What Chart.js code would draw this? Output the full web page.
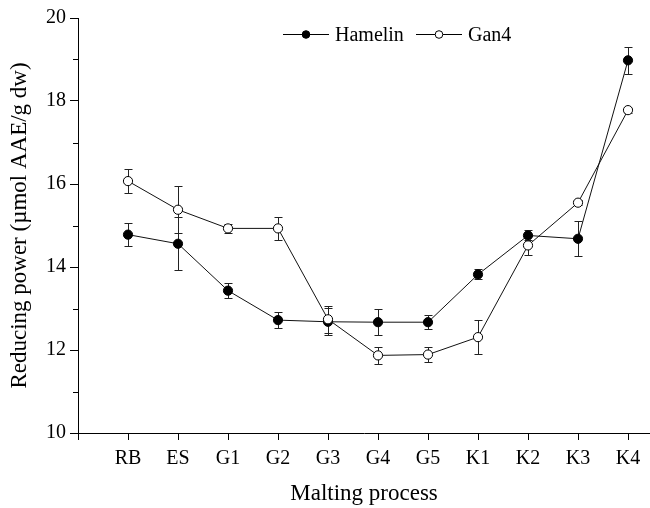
<!DOCTYPE html>
<html><head><meta charset="utf-8">
<script src="https://cdn.jsdelivr.net/npm/chart.js@4/dist/chart.umd.min.js"></script>
<style>html,body{margin:0;padding:0;background:#fff}#wrap{width:650px;height:508px}</style>
</head><body><div id="wrap"><canvas id="c" width="650" height="508"></canvas></div>
<script>
const categories = ['RB','ES','G1','G2','G3','G4','G5','K1','K2','K3','K4'];
const hamelin    = [14.78,14.56,13.43,12.72,12.68,12.67,12.67,13.82,14.76,14.68,18.98];
const hamelinErr = [0.27,0.64,0.18,0.20,0.33,0.32,0.17,0.12,0.12,0.42,0.33];
const gan4       = [16.07,15.38,14.93,14.93,12.74,11.87,11.89,12.31,14.52,15.55,17.78];
const gan4Err    = [0.28,0.56,0.10,0.28,0.32,0.21,0.18,0.41,0.22,0.06,0.06];
const yMajorTicks = [10,12,14,16,18,20];
const seriesNames = ['Hamelin','Gan4'];

const FONT = 'Liberation Serif, Times New Roman, serif';
const toXY = arr => arr.map((v,i)=>({x:i+1,y:v}));

const errorBars = {
  id:'errorBars',
  beforeDatasetsDraw(chart){
    const {ctx, scales:{x,y}} = chart;
    ctx.save(); ctx.strokeStyle='#222'; ctx.lineWidth=1;
    [[hamelin,hamelinErr],[gan4,gan4Err]].forEach(([vals,errs])=>{
      vals.forEach((v,i)=>{
        const px = Math.round(x.getPixelForValue(i+1))+0.5;
        const t = Math.round(y.getPixelForValue(v+errs[i]))+0.5;
        const b = Math.round(y.getPixelForValue(v-errs[i]))+0.5;
        ctx.beginPath();
        ctx.moveTo(px,t); ctx.lineTo(px,b);
        ctx.moveTo(px-4,t); ctx.lineTo(px+4,t);
        ctx.moveTo(px-4,b); ctx.lineTo(px+4,b);
        ctx.stroke();
      });
    });
    ctx.restore();
  }
};

const minorTicks = {
  id:'minorTicks',
  afterDraw(chart){
    const {ctx, scales:{y}} = chart;
    ctx.save(); ctx.strokeStyle='#000'; ctx.lineWidth=1;
    for(let v=11; v<20; v+=2){
      const py = Math.round(y.getPixelForValue(v))+0.5;
      ctx.beginPath(); ctx.moveTo(y.right-5,py); ctx.lineTo(y.right,py); ctx.stroke();
    }
    ctx.restore();
  }
};

const customLegend = {
  id:'customLegend',
  afterDraw(chart){
    const {ctx} = chart;
    ctx.save();
    ctx.font = '20px '+FONT; ctx.fillStyle='#000'; ctx.textBaseline='middle'; ctx.textAlign='left';
    const items = [{x0:283, fill:'#000', label:seriesNames[0]},{x0:416, fill:'#fff', label:seriesNames[1]}];
    const yy = 34.5;
    items.forEach(it=>{
      ctx.strokeStyle='#000'; ctx.lineWidth=1;
      ctx.beginPath(); ctx.moveTo(it.x0,yy); ctx.lineTo(it.x0+46,yy); ctx.stroke();
      ctx.beginPath(); ctx.arc(it.x0+23,yy,3.8,0,Math.PI*2);
      ctx.fillStyle=it.fill; ctx.fill(); ctx.stroke();
      ctx.fillStyle='#000'; ctx.fillText(it.label, it.x0+52, yy+1);
    });
    ctx.restore();
  }
};

new Chart(document.getElementById('c'), {
  type:'line',
  data:{datasets:[
    {label:seriesNames[0], data:toXY(hamelin), borderColor:'#111', borderWidth:1,
     pointRadius:4.6, pointBackgroundColor:'#000', pointBorderColor:'#000', pointBorderWidth:1, order:1, tension:0},
    {label:seriesNames[1], data:toXY(gan4), borderColor:'#111', borderWidth:1,
     pointRadius:4.6, pointBackgroundColor:'#fff', pointBorderColor:'#000', pointBorderWidth:1, order:0, tension:0}
  ]},
  options:{
    responsive:false, animation:false, devicePixelRatio:1,
    layout:{autoPadding:false, padding:{top:18,right:0,left:0,bottom:0}},
    plugins:{legend:{display:false}, tooltip:{enabled:false}},
    elements:{line:{clip:false}},
    scales:{
      x:{type:'linear', min:0, max:11.44,
        afterBuildTicks(s){ s.ticks = categories.map((c,i)=>({value:i+1})); s.ticks.unshift({value:0}); },
        afterFit(s){ s.height = 75; s.paddingRight = 0; s.paddingLeft = 0; },
        ticks:{ autoSkip:false, maxRotation:0, padding:7, color:'#000', font:{family:FONT,size:20},
          callback:(v)=> categories[v-1] || '' },
        grid:{ drawOnChartArea:false, tickLength:7, color:'#000', tickColor:'#000' },
        border:{ display:true, color:'#000', width:1 },
        title:{ display:true, text:'Malting process', color:'#000', font:{family:FONT,size:23}, padding:{top:0,bottom:0} }
      },
      y:{type:'linear', min:10, max:20,
        afterBuildTicks(s){ s.ticks = yMajorTicks.map(v=>({value:v})); },
        afterFit(s){ s.width = 78; },
        ticks:{ padding:4, color:'#000', font:{family:FONT,size:20} },
        grid:{ drawOnChartArea:false, tickLength:8, color:'#000', tickColor:'#000' },
        border:{ display:true, color:'#000', width:1 },
        title:{ display:true, text:'Reducing power (µmol AAE/g dw)', color:'#000', font:{family:FONT,size:23}, padding:{top:6,bottom:0} }
      }
    }
  },
  plugins:[errorBars, minorTicks, customLegend]
});
</script></body></html>
